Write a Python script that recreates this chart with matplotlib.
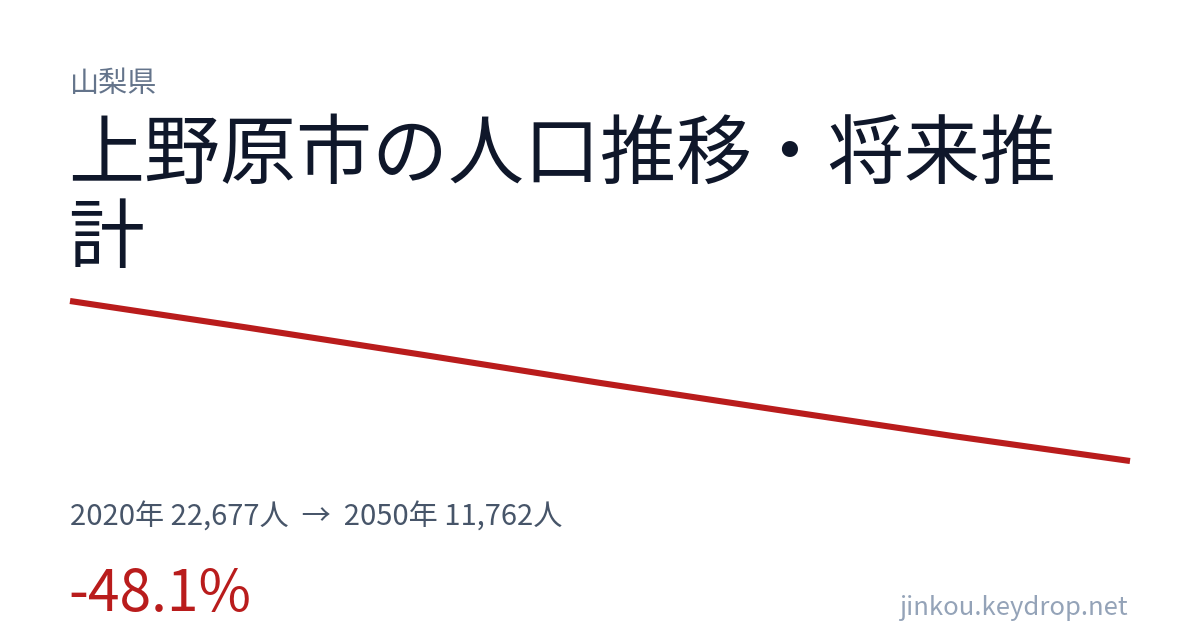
import matplotlib
matplotlib.use("Agg")
import matplotlib.pyplot as plt

plt.rcParams["font.family"] = ["Noto Sans CJK JP", "DejaVu Sans"]

years = [2020, 2025, 2030, 2035, 2040, 2045, 2050]
population = [22677, 20870, 19000, 17090, 15260, 13460, 11762]

prefecture = "山梨県"
title = "上野原市の人口推移・将来推\n計"
start_label = f"{years[0]}年 {population[0]:,}人"
end_label = f"{years[-1]}年 {population[-1]:,}人"
change = (population[-1] - population[0]) / population[0] * 100
site = "jinkou.keydrop.net"

RED = "#b91c1c"
W, H = 1200, 630

fig = plt.figure(figsize=(W / 100, H / 100), dpi=100)
fig.patch.set_facecolor("white")


def fx(px):
    return px / W


def fy(py):
    return 1 - py / H


# Line panel: left 70 px, right 1130 px, top 301 px, bottom 461 px.
ax = fig.add_axes([fx(70), fy(461), fx(1130 - 70), (461 - 301) / H])
ax.plot(years, population, color=RED, lw=4.4, solid_capstyle="butt",
        solid_joinstyle="round", clip_on=False)
ax.set_xlim(years[0], years[-1])
ax.set_ylim(min(population), max(population))
ax.axis("off")

fig.text(fx(70), fy(92), prefecture, fontsize=21, color="#64748b",
         va="baseline", ha="left")
fig.text(fx(68), fy(262), title, fontsize=54.7, color="#0f172a",
         va="baseline", ha="left", linespacing=1.12)
fig.text(fx(70), fy(526), f"{start_label}  →  {end_label}", fontsize=21,
         color="#475569", va="baseline", ha="left")
fig.text(fx(68), fy(611), f"{change:.1f}%", fontsize=41, color=RED,
         va="baseline", ha="left")
fig.text(fx(1128), fy(615), site, fontsize=18.5, color="#94a3b8",
         va="baseline", ha="right")

fig.savefig("out.png", dpi=100, facecolor="white")
